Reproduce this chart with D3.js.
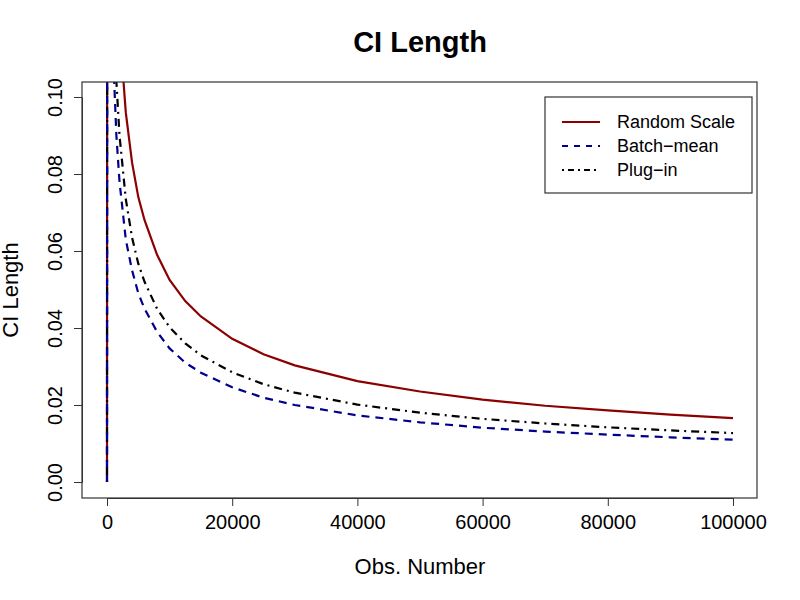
<!DOCTYPE html>
<html><head><meta charset="utf-8">
<script src="https://cdn.jsdelivr.net/npm/d3@7"></script>
<style>body{margin:0;background:#fff}text{font-family:"Liberation Sans",Arial,sans-serif}</style>
</head><body><svg id="c" width="800" height="600"></svg>
<script>
const obs = [0,100,500,1000,1500,2000,3000,4000,5000,6000,8000,10000,12500,15000,20000,25000,30000,40000,50000,60000,70000,80000,90000,100000];
const randomScale = [0,0.5,0.235,0.166,0.136,0.118,0.096,0.083,0.074,0.068,0.059,0.0525,0.047,0.043,0.0372,0.0332,0.0303,0.0262,0.0235,0.0214,0.0198,0.0186,0.0175,0.0166];
const plugIn = [0,0.5,0.18,0.127,0.104,0.090,0.0735,0.0635,0.0567,0.052,0.045,0.0402,0.036,0.0329,0.0285,0.0254,0.0232,0.0201,0.018,0.0164,0.0152,0.0142,0.0134,0.0127];
const batchMean = [0,0.5,0.155,0.11,0.090,0.078,0.063,0.055,0.049,0.045,0.039,0.0347,0.031,0.0284,0.0246,0.0219,0.02,0.0173,0.0155,0.0141,0.0131,0.0123,0.0116,0.0110];
const xTicks = [0,20000,40000,60000,80000,100000];
const yTicks = [0,0.02,0.04,0.06,0.08,0.10];
const series = [
  {name:"Random Scale", values:randomScale, color:"#8b0000", dash:null, ldash:null},
  {name:"Batch\u2212mean", values:batchMean, color:"#00008b", dash:"8,6", ldash:"6,6"},
  {name:"Plug\u2212in", values:plugIn, color:"#000000", dash:"2,5,8,5", ldash:"2,4,6,4"}
];
const svg = d3.select("#c");
const L=82,R=757,T=82,B=498;
const x = d3.scaleLinear().domain([0,100000]).range([107,733]);
const y = d3.scaleLinear().domain([0,0.10]).range([482,97]);
svg.append("clipPath").attr("id","cp").append("rect").attr("x",L).attr("y",T).attr("width",R-L).attr("height",B-T);
const line = d3.line().x((d,i)=>x(obs[i])).y(d=>y(d));
[series[0],series[2],series[1]].forEach(s=>{
  svg.append("path").attr("clip-path","url(#cp)").attr("d",line(s.values)).attr("fill","none")
    .attr("stroke",s.color).attr("stroke-width",2.2).attr("stroke-dasharray",s.dash);
});
svg.append("rect").attr("x",L).attr("y",T).attr("width",R-L).attr("height",B-T).attr("fill","none").attr("stroke","#333").attr("stroke-width",1.2);
const xa = svg.append("g").attr("transform",`translate(0,${B})`).call(d3.axisBottom(x).tickValues(xTicks).tickFormat(d3.format("d")).tickSize(8).tickSizeOuter(0));
xa.select(".domain").attr("stroke","#333");
xa.selectAll(".tick line").attr("stroke","#333");
xa.selectAll("text").attr("font-size",20).attr("y",12).attr("dy","0.95em").attr("fill","#000");
const ya = svg.append("g").attr("transform",`translate(${L},0)`).call(d3.axisLeft(y).tickValues(yTicks).tickFormat(d3.format(".2f")).tickSize(8).tickSizeOuter(0));
ya.select(".domain").attr("stroke","#333");
ya.selectAll(".tick line").attr("stroke","#333");
ya.selectAll(".tick text").attr("font-size",20).attr("fill","#000").attr("text-anchor","middle")
  .attr("transform","rotate(-90)").attr("x",0).attr("y",-20).attr("dy","0");
svg.append("text").attr("x",420).attr("y",52).attr("text-anchor","middle").attr("font-size",29).attr("font-weight","bold").text("CI Length");
svg.append("text").attr("x",420).attr("y",574).attr("text-anchor","middle").attr("font-size",22).text("Obs. Number");
svg.append("text").attr("transform","translate(18,290) rotate(-90)").attr("text-anchor","middle").attr("font-size",22).text("CI Length");
svg.append("rect").attr("x",545).attr("y",97).attr("width",207).attr("height",96).attr("fill","#fff").attr("stroke","#333").attr("stroke-width",1.2);
series.forEach((s,i)=>{
  const yy=122+i*24;
  svg.append("line").attr("x1",562).attr("x2",600).attr("y1",yy).attr("y2",yy).attr("stroke",s.color).attr("stroke-width",2).attr("stroke-dasharray",s.ldash);
  svg.append("text").attr("x",617).attr("y",yy+6).attr("font-size",18).text(s.name);
});
</script></body></html>
